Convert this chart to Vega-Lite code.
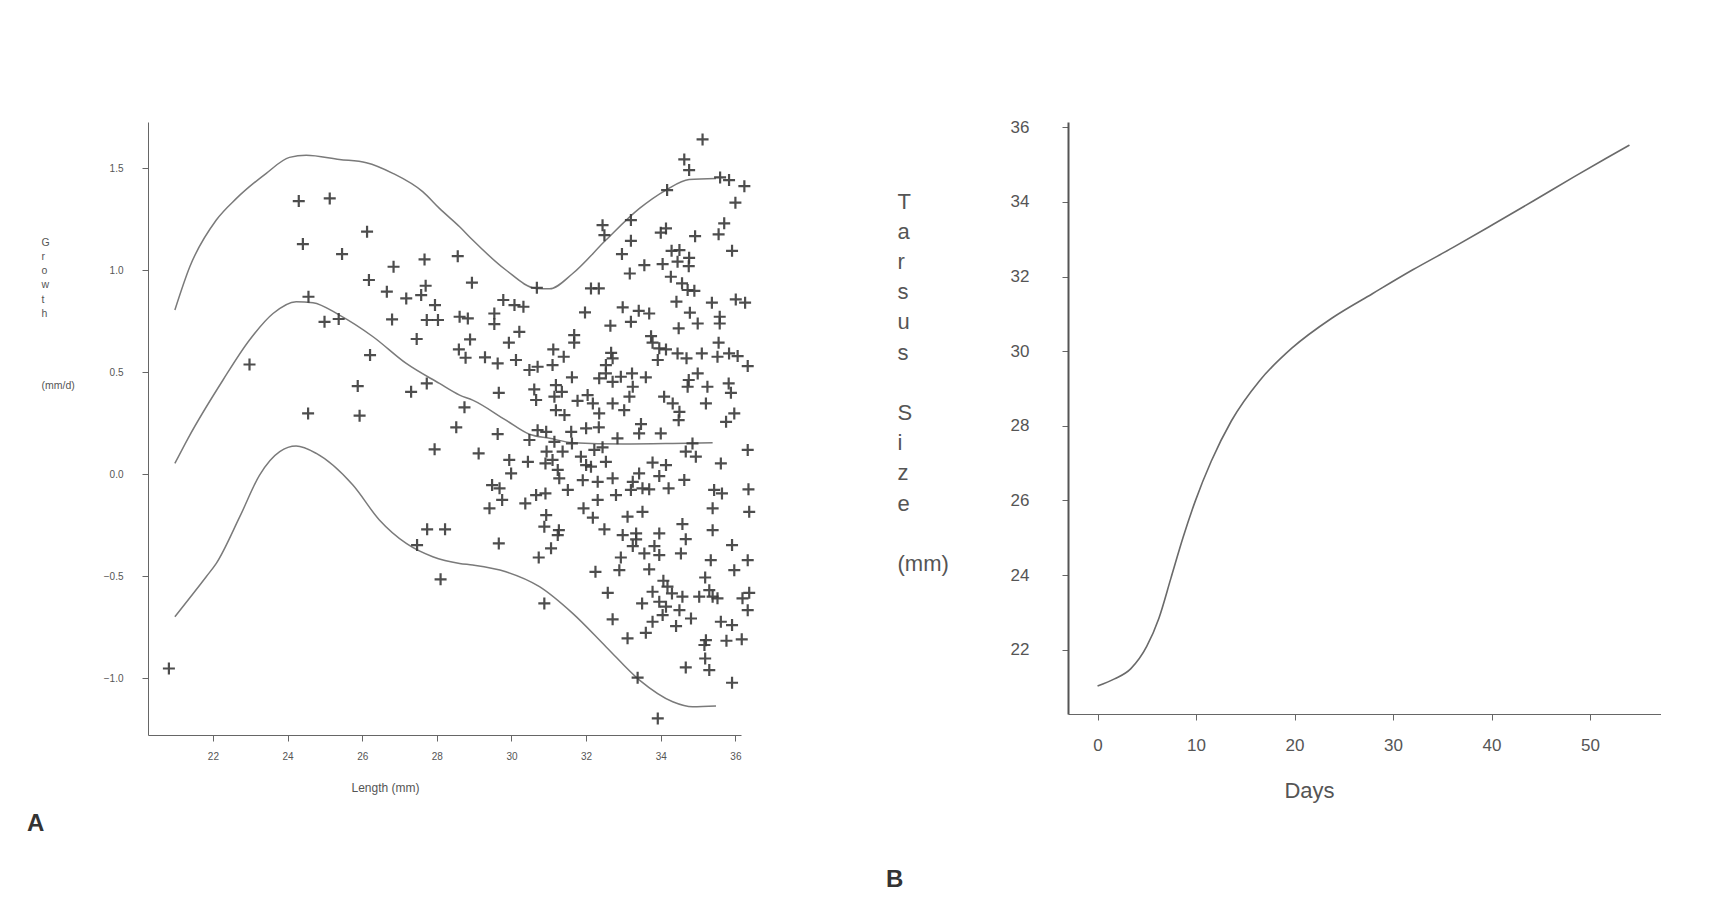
{
  "$schema": "https://vega.github.io/schema/vega-lite/v6.json",
  "background": "white",
  "padding": {"left": 27, "top": 118, "right": 0, "bottom": 0},
  "bounds": "flush",
  "spacing": 327,
  "config": {
    "font": "Liberation Sans",
    "view": {"stroke": null},
    "axis": {"grid": false, "domainColor": "#666", "tickColor": "#666", "labelColor": "#555", "titleColor": "#555", "titleFontWeight": "normal"}
  },
  "datasets": {
    "growth": [
      {"length":24.30,"growth":1.338},{"length":25.13,"growth":1.351},{"length":24.41,"growth":1.127},{"length":26.13,"growth":1.188},
      {"length":25.46,"growth":1.078},{"length":26.84,"growth":1.016},{"length":27.67,"growth":1.052},{"length":28.56,"growth":1.068},
      {"length":26.18,"growth":0.951},{"length":26.66,"growth":0.894},{"length":27.18,"growth":0.861},{"length":27.58,"growth":0.877},
      {"length":27.70,"growth":0.923},{"length":27.95,"growth":0.828},{"length":28.61,"growth":0.771},{"length":24.56,"growth":0.869},
      {"length":24.99,"growth":0.746},{"length":25.37,"growth":0.760},{"length":26.80,"growth":0.758},{"length":27.73,"growth":0.755},
      {"length":28.03,"growth":0.755},{"length":27.46,"growth":0.662},{"length":22.98,"growth":0.537},{"length":26.21,"growth":0.583},
      {"length":28.59,"growth":0.611},{"length":25.88,"growth":0.431},{"length":27.31,"growth":0.403},{"length":27.73,"growth":0.444},
      {"length":24.55,"growth":0.297},{"length":25.93,"growth":0.286},{"length":28.52,"growth":0.229},
      {"length":27.94,"growth":0.121},{"length":27.74,"growth":-0.271},{"length":28.22,"growth":-0.271},{"length":27.47,"growth":-0.348},
      {"length":28.10,"growth":-0.516},{"length":20.82,"growth":-0.953},
      {"length":35.12,"growth":1.640},{"length":34.63,"growth":1.542},{"length":34.76,"growth":1.490},{"length":34.17,"growth":1.392},
      {"length":35.59,"growth":1.454},{"length":35.83,"growth":1.441},{"length":36.24,"growth":1.411},{"length":36.0,"growth":1.330},
      {"length":33.2,"growth":1.245},{"length":32.44,"growth":1.220},{"length":32.49,"growth":1.171},{"length":33.2,"growth":1.143},
      {"length":34.14,"growth":1.204},{"length":34.0,"growth":1.183},{"length":34.92,"growth":1.166},{"length":35.70,"growth":1.229},
      {"length":35.55,"growth":1.175},{"length":35.91,"growth":1.094},{"length":32.96,"growth":1.078},{"length":33.56,"growth":1.024},
      {"length":34.05,"growth":1.029},{"length":34.29,"growth":1.094},{"length":34.50,"growth":1.098},{"length":34.76,"growth":1.060},
      {"length":34.45,"growth":1.041},{"length":34.75,"growth":1.019},{"length":33.17,"growth":0.983},{"length":34.27,"growth":0.967},
      {"length":34.57,"growth":0.935},{"length":34.72,"growth":0.902},{"length":34.90,"growth":0.898},{"length":28.94,"growth":0.938},
      {"length":30.68,"growth":0.913},{"length":32.13,"growth":0.910},{"length":32.34,"growth":0.910},{"length":29.78,"growth":0.853},
      {"length":30.08,"growth":0.828},{"length":30.32,"growth":0.820},{"length":28.83,"growth":0.763},{"length":29.54,"growth":0.787},
      {"length":29.54,"growth":0.735},{"length":31.97,"growth":0.792},{"length":32.98,"growth":0.817},{"length":33.41,"growth":0.800},
      {"length":33.69,"growth":0.787},{"length":34.42,"growth":0.845},{"length":35.37,"growth":0.840},{"length":36.01,"growth":0.856},
      {"length":36.26,"growth":0.840},{"length":34.78,"growth":0.791},{"length":32.65,"growth":0.727},{"length":33.2,"growth":0.746},
      {"length":34.48,"growth":0.714},{"length":34.99,"growth":0.738},{"length":35.58,"growth":0.771},{"length":35.58,"growth":0.738},
      {"length":28.89,"growth":0.660},{"length":30.21,"growth":0.697},{"length":29.93,"growth":0.644},{"length":31.68,"growth":0.681},
      {"length":31.68,"growth":0.644},{"length":33.74,"growth":0.676},{"length":33.78,"growth":0.644},{"length":33.96,"growth":0.616},
      {"length":35.55,"growth":0.644},{"length":28.77,"growth":0.570},{"length":29.29,"growth":0.572},{"length":29.63,"growth":0.542},
      {"length":30.12,"growth":0.559},{"length":31.12,"growth":0.611},{"length":31.40,"growth":0.575},{"length":32.67,"growth":0.594},
      {"length":32.71,"growth":0.567},{"length":34.14,"growth":0.611},{"length":34.45,"growth":0.591},{"length":34.69,"growth":0.567},
      {"length":35.10,"growth":0.591},{"length":35.52,"growth":0.575},{"length":35.83,"growth":0.591},{"length":36.06,"growth":0.578},
      {"length":36.33,"growth":0.529},{"length":33.92,"growth":0.559},{"length":30.48,"growth":0.510},{"length":30.70,"growth":0.526},
      {"length":31.10,"growth":0.534},{"length":32.53,"growth":0.534},{"length":32.53,"growth":0.493},{"length":31.62,"growth":0.474},
      {"length":32.35,"growth":0.469},{"length":32.71,"growth":0.452},{"length":32.93,"growth":0.477},{"length":33.23,"growth":0.493},
      {"length":33.60,"growth":0.474},{"length":34.75,"growth":0.461},{"length":34.99,"growth":0.493},{"length":35.25,"growth":0.428},
      {"length":34.72,"growth":0.428},{"length":35.82,"growth":0.444},{"length":35.88,"growth":0.398},{"length":29.66,"growth":0.398},
      {"length":30.61,"growth":0.415},{"length":31.19,"growth":0.436},{"length":31.15,"growth":0.379},{"length":31.35,"growth":0.403},
      {"length":33.25,"growth":0.428},{"length":32.04,"growth":0.387},{"length":31.77,"growth":0.359},{"length":32.18,"growth":0.346},
      {"length":32.71,"growth":0.346},{"length":33.16,"growth":0.379},{"length":34.09,"growth":0.379},{"length":34.32,"growth":0.346},
      {"length":35.21,"growth":0.346},{"length":30.66,"growth":0.363},{"length":31.19,"growth":0.313},{"length":31.42,"growth":0.289},
      {"length":32.35,"growth":0.297},{"length":33.02,"growth":0.313},{"length":28.74,"growth":0.327},{"length":29.63,"growth":0.196},
      {"length":30.70,"growth":0.215},{"length":30.93,"growth":0.207},{"length":31.60,"growth":0.207},{"length":32.0,"growth":0.224},
      {"length":32.34,"growth":0.229},{"length":33.47,"growth":0.245},{"length":34.0,"growth":0.199},{"length":34.48,"growth":0.264},
      {"length":34.5,"growth":0.305},{"length":35.75,"growth":0.256},{"length":35.97,"growth":0.297},{"length":33.42,"growth":0.199},
      {"length":32.84,"growth":0.175},{"length":30.48,"growth":0.167},{"length":31.15,"growth":0.158},{"length":31.62,"growth":0.150},
      {"length":32.44,"growth":0.131},{"length":34.85,"growth":0.150},{"length":34.67,"growth":0.110},{"length":29.12,"growth":0.101},
      {"length":30.94,"growth":0.110},{"length":31.10,"growth":0.069},{"length":31.37,"growth":0.110},{"length":31.86,"growth":0.085},
      {"length":32.22,"growth":0.118},{"length":29.94,"growth":0.069},{"length":30.44,"growth":0.060},{"length":32.53,"growth":0.060},
      {"length":30.91,"growth":0.052},{"length":34.94,"growth":0.085},{"length":36.33,"growth":0.118},{"length":29.99,"growth":0.003},
      {"length":31.24,"growth":0.020},{"length":32.0,"growth":0.044},{"length":32.13,"growth":0.036},{"length":31.28,"growth":-0.021},
      {"length":31.91,"growth":-0.030},{"length":32.31,"growth":-0.038},{"length":32.71,"growth":-0.021},{"length":33.78,"growth":0.056},
      {"length":34.14,"growth":0.044},{"length":33.96,"growth":-0.010},{"length":33.42,"growth":0.003},{"length":33.25,"growth":-0.038},
      {"length":33.51,"growth":-0.070},{"length":33.69,"growth":-0.075},{"length":33.20,"growth":-0.078},{"length":34.21,"growth":-0.070},
      {"length":34.63,"growth":-0.029},{"length":35.61,"growth":0.052},{"length":35.43,"growth":-0.078},{"length":35.64,"growth":-0.095},
      {"length":36.35,"growth":-0.075},{"length":29.48,"growth":-0.054},{"length":29.68,"growth":-0.070},{"length":29.75,"growth":-0.127},
      {"length":29.41,"growth":-0.168},{"length":30.37,"growth":-0.144},{"length":30.66,"growth":-0.103},{"length":30.91,"growth":-0.095},
      {"length":31.51,"growth":-0.078},{"length":32.31,"growth":-0.127},{"length":32.80,"growth":-0.103},{"length":31.93,"growth":-0.168},
      {"length":32.18,"growth":-0.214},{"length":33.11,"growth":-0.209},{"length":33.51,"growth":-0.185},{"length":35.39,"growth":-0.168},
      {"length":36.37,"growth":-0.185},{"length":30.93,"growth":-0.201},{"length":30.88,"growth":-0.258},{"length":31.27,"growth":-0.275},
      {"length":31.24,"growth":-0.299},{"length":32.49,"growth":-0.271},{"length":32.98,"growth":-0.299},{"length":33.34,"growth":-0.291},
      {"length":33.34,"growth":-0.320},{"length":33.25,"growth":-0.353},{"length":33.96,"growth":-0.291},{"length":34.58,"growth":-0.245},
      {"length":34.67,"growth":-0.319},{"length":35.39,"growth":-0.275},{"length":29.66,"growth":-0.340},{"length":31.06,"growth":-0.364},
      {"length":30.73,"growth":-0.409},{"length":33.56,"growth":-0.389},{"length":33.83,"growth":-0.353},{"length":33.96,"growth":-0.397},
      {"length":34.54,"growth":-0.389},{"length":35.91,"growth":-0.348},{"length":32.93,"growth":-0.409},{"length":32.89,"growth":-0.471},
      {"length":32.25,"growth":-0.479},{"length":33.69,"growth":-0.467},{"length":35.34,"growth":-0.422},{"length":35.97,"growth":-0.471},
      {"length":36.33,"growth":-0.422},{"length":34.07,"growth":-0.523},{"length":34.18,"growth":-0.552},{"length":34.30,"growth":-0.585},
      {"length":33.78,"growth":-0.577},{"length":32.58,"growth":-0.582},{"length":34.58,"growth":-0.601},{"length":35.19,"growth":-0.507},
      {"length":35.30,"growth":-0.569},{"length":35.03,"growth":-0.601},{"length":35.39,"growth":-0.601},{"length":35.52,"growth":-0.609},
      {"length":36.19,"growth":-0.609},{"length":36.37,"growth":-0.582},{"length":33.50,"growth":-0.634},{"length":33.96,"growth":-0.626},
      {"length":34.14,"growth":-0.650},{"length":34.50,"growth":-0.667},{"length":34.05,"growth":-0.691},{"length":34.81,"growth":-0.708},
      {"length":36.33,"growth":-0.667},{"length":30.88,"growth":-0.634},{"length":32.71,"growth":-0.712},{"length":33.78,"growth":-0.724},
      {"length":34.41,"growth":-0.745},{"length":35.61,"growth":-0.724},{"length":35.91,"growth":-0.740},{"length":33.11,"growth":-0.805},
      {"length":33.60,"growth":-0.778},{"length":35.21,"growth":-0.814},{"length":35.17,"growth":-0.838},{"length":35.76,"growth":-0.817},
      {"length":36.17,"growth":-0.810},{"length":34.67,"growth":-0.948},{"length":35.19,"growth":-0.904},{"length":35.30,"growth":-0.961},
      {"length":35.91,"growth":-1.023},{"length":33.38,"growth":-0.998},{"length":33.92,"growth":-1.198}
    ],
    "curves": [
      {"curve":"upper","length":20.98,"growth":0.804},{"curve":"upper","length":21.38,"growth":1.016},{"curve":"upper","length":22.09,"growth":1.245},
      {"curve":"upper","length":22.63,"growth":1.351},{"curve":"upper","length":23.43,"growth":1.474},{"curve":"upper","length":24.05,"growth":1.552},
      {"curve":"upper","length":24.5,"growth":1.563},{"curve":"upper","length":25.39,"growth":1.542},{"curve":"upper","length":26.11,"growth":1.526},
      {"curve":"upper","length":26.82,"growth":1.474},{"curve":"upper","length":27.62,"growth":1.384},{"curve":"upper","length":28.07,"growth":1.302},
      {"curve":"upper","length":28.61,"growth":1.212},{"curve":"upper","length":28.96,"growth":1.147},{"curve":"upper","length":29.85,"growth":1.0},
      {"curve":"upper","length":30.66,"growth":0.910},{"curve":"upper","length":31.02,"growth":0.908},{"curve":"upper","length":31.64,"growth":0.983},
      {"curve":"upper","length":32.53,"growth":1.147},{"curve":"upper","length":33.43,"growth":1.302},{"curve":"upper","length":34.14,"growth":1.392},
      {"curve":"upper","length":34.76,"growth":1.444},{"curve":"upper","length":35.48,"growth":1.449},
      {"curve":"middle","length":20.98,"growth":0.052},{"curve":"middle","length":21.33,"growth":0.174},{"curve":"middle","length":22.27,"growth":0.461},
      {"curve":"middle","length":22.98,"growth":0.657},{"curve":"middle","length":23.61,"growth":0.787},{"curve":"middle","length":24.23,"growth":0.845},
      {"curve":"middle","length":24.68,"growth":0.840},{"curve":"middle","length":25.39,"growth":0.779},{"curve":"middle","length":26.29,"growth":0.673},
      {"curve":"middle","length":27.18,"growth":0.542},{"curve":"middle","length":28.07,"growth":0.444},{"curve":"middle","length":28.61,"growth":0.387},
      {"curve":"middle","length":28.96,"growth":0.362},{"curve":"middle","length":29.85,"growth":0.264},{"curve":"middle","length":30.48,"growth":0.195},
      {"curve":"middle","length":31.02,"growth":0.175},{"curve":"middle","length":31.64,"growth":0.154},{"curve":"middle","length":32.98,"growth":0.147},
      {"curve":"middle","length":34.32,"growth":0.150},{"curve":"middle","length":35.39,"growth":0.154},
      {"curve":"lower","length":20.98,"growth":-0.699},{"curve":"lower","length":21.82,"growth":-0.503},{"curve":"lower","length":22.09,"growth":-0.438},
      {"curve":"lower","length":22.72,"growth":-0.209},{"curve":"lower","length":23.25,"growth":-0.005},{"curve":"lower","length":23.79,"growth":0.110},
      {"curve":"lower","length":24.23,"growth":0.137},{"curve":"lower","length":24.77,"growth":0.101},{"curve":"lower","length":25.75,"growth":-0.054},
      {"curve":"lower","length":26.46,"growth":-0.225},{"curve":"lower","length":27.18,"growth":-0.340},{"curve":"lower","length":27.89,"growth":-0.405},
      {"curve":"lower","length":28.61,"growth":-0.438},{"curve":"lower","length":28.96,"growth":-0.446},{"curve":"lower","length":29.85,"growth":-0.479},
      {"curve":"lower","length":30.75,"growth":-0.552},{"curve":"lower","length":31.64,"growth":-0.683},{"curve":"lower","length":32.53,"growth":-0.846},
      {"curve":"lower","length":33.43,"growth":-1.010},{"curve":"lower","length":34.32,"growth":-1.116},{"curve":"lower","length":34.85,"growth":-1.141},
      {"curve":"lower","length":35.48,"growth":-1.137}
    ],
    "tarsus": [
      {"days":0,"size":21.03},{"days":1.72,"size":21.22},{"days":3.36,"size":21.49},{"days":4.99,"size":22.09},{"days":6.22,"size":22.84},
      {"days":7.45,"size":23.92},{"days":8.67,"size":25.0},{"days":9.9,"size":25.97},{"days":11.54,"size":27.05},{"days":13.58,"size":28.13},
      {"days":16.45,"size":29.21},{"days":19.72,"size":30.08},{"days":23.81,"size":30.89},{"days":27.9,"size":31.54},{"days":32.0,"size":32.18},
      {"days":36.1,"size":32.78},{"days":40.18,"size":33.4},{"days":44.27,"size":34.03},{"days":48.36,"size":34.67},{"days":51.64,"size":35.17},
      {"days":54.0,"size":35.52}
    ]
  },
  "hconcat": [
    {
      "width": 593,
      "height": 613,
      "title": {"text": "A", "orient": "bottom", "anchor": "start", "frame": "group", "offset": 19, "dx": -121, "fontSize": 24, "fontWeight": "bold", "color": "#333", "baseline": "top"},
      "encoding": {
        "x": {"field": "length", "type": "quantitative",
          "scale": {"domain": [20.26, 36.15], "nice": false, "zero": false},
          "axis": {"title": "Length (mm)", "values": [22,24,26,28,30,32,34,36], "format": "d", "labelFontSize": 10, "tickSize": 6, "labelPadding": 10,
            "titleFontSize": 12, "titleX": 237, "titleY": 52, "titleAlign": "center", "titleBaseline": "middle"}},
        "y": {"field": "growth", "type": "quantitative",
          "scale": {"domain": [-1.279, 1.7255], "nice": false, "zero": false},
          "axis": {"title": ["G","r","o","w","t","h","\u200b","\u200b","\u200b","\u200b","(mm/d)"], "values": [-1,-0.5,0,0.5,1,1.5], "format": ".1f", "labelFontSize": 10, "tickSize": 6, "labelPadding": 19,
            "titleFontSize": 10.5, "titleLineHeight": 14.3, "titleAngle": 0, "titleAlign": "left", "titleBaseline": "top", "titleX": -107, "titleY": 115}}
      },
      "layer": [
        {"data": {"name": "curves"}, "mark": {"type": "line", "color": "#7a7a7a", "strokeWidth": 1.5, "interpolate": "monotone"},
          "encoding": {"detail": {"field": "curve"}}},
        {"data": {"name": "growth"}, "mark": {"type": "point", "shape": "M-1,0L1,0M0,-1L0,1", "size": 144, "strokeWidth": 2.2, "color": "#3a3a3a", "filled": false, "opacity": 0.9}}
      ]
    },
    {
      "width": 593,
      "height": 592,
      "title": {"text": "B", "orient": "bottom", "anchor": "start", "frame": "group", "offset": 67, "dx": -182, "fontSize": 24, "fontWeight": "bold", "color": "#333", "baseline": "top"},
      "data": {"name": "tarsus"},
      "mark": {"type": "line", "color": "#6a6a6a", "strokeWidth": 1.6, "interpolate": "monotone"},
      "encoding": {
        "x": {"field": "days", "type": "quantitative",
          "scale": {"domain": [-3.0, 57.2], "nice": false, "zero": false},
          "axis": {"title": "Days", "values": [0,10,20,30,40,50], "labelFontSize": 17, "tickSize": 6, "labelPadding": 17,
            "titleFontSize": 22, "titleX": 241, "titleY": 76, "titleAlign": "center", "titleBaseline": "middle"}},
        "y": {"field": "size", "type": "quantitative",
          "scale": {"domain": [20.28, 36.14], "nice": false, "zero": false},
          "axis": {"title": ["T","a","r","s","u","s","\u200b","S","i","z","e","\u200b","(mm)"], "values": [22,24,26,28,30,32,34,36], "labelFontSize": 17, "tickSize": 6, "labelPadding": 33, "domainWidth": 2, "domainColor": "#555",
            "titleFontSize": 22, "titleLineHeight": 30.2, "titleAngle": 0, "titleAlign": "left", "titleBaseline": "top", "titleX": -171, "titleY": 69}}
      }
    }
  ]
}
